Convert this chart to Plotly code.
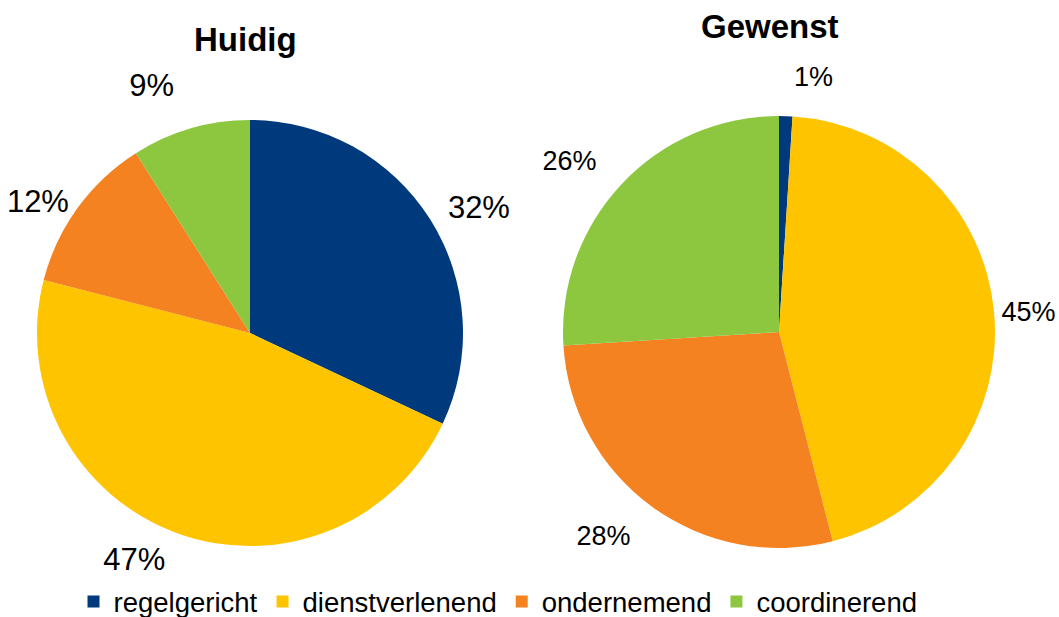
import plotly.graph_objects as go

categories = ["regelgericht", "dienstverlenend", "ondernemend", "coordinerend"]
huidig = [32, 47, 12, 9]
gewenst = [1, 45, 28, 26]
colors = ["#003A7D", "#FFC400", "#F58220", "#8DC63F"]

W, H = 1059, 617
FONT = "Liberation Sans, Arial"


def dom(cx, cy, r):
    """Domain for a pie centred at figure pixel (cx, cy) with radius r."""
    return dict(x=[max(cx - r, 0) / W, min(cx + r, W) / W],
                y=[max(H - cy - r, 0) / H, min(H - cy + r, H) / H])


def pie(values, domain, textpos, size, visible_marker=True, legend=False):
    return go.Pie(
        labels=categories, values=values, sort=False, direction="clockwise", rotation=0,
        marker=dict(colors=colors if visible_marker else ["rgba(0,0,0,0)"] * len(values),
                    line=dict(width=0)),
        textposition=textpos, texttemplate="%{value}%",
        textfont=dict(size=size, color="black", family=FONT),
        domain=domain, showlegend=legend,
        hoverinfo="label+percent" if visible_marker else "skip",
    )


fig = go.Figure()
# Huidig
fig.add_trace(pie(huidig, dom(250, 333, 213), ["none", "none", "outside", "none"], 31, legend=True))
fig.add_trace(pie(huidig, dom(250, 333, 224), ["outside", "outside", "none", "none"], 31, visible_marker=False))
fig.add_trace(pie(huidig, dom(250, 333, 241), ["none", "none", "none", "outside"], 31, visible_marker=False))
# Gewenst
fig.add_trace(pie(gewenst, dom(779, 332, 216), ["none", "outside", "none", "none"], 27))
fig.add_trace(pie(gewenst, dom(779, 332, 240), ["outside", "none", "outside", "outside"], 27, visible_marker=False))

fig.update_layout(
    width=W, height=H, margin=dict(l=0, r=0, t=0, b=0, autoexpand=False),
    paper_bgcolor="white", plot_bgcolor="white",
    font=dict(family=FONT, color="black"),
    legend=dict(orientation="h", x=498 / W, xanchor="center", y=-9 / H, yanchor="bottom",
                font=dict(size=27.5), itemwidth=30, traceorder="normal"),
    annotations=[
        dict(text="<b>Huidig</b>", x=245 / W, y=1 - 39 / H, xref="paper", yref="paper",
             xanchor="center", yanchor="middle", showarrow=False, font=dict(size=33)),
        dict(text="<b>Gewenst</b>", x=770 / W, y=1 - 26 / H, xref="paper", yref="paper",
             xanchor="center", yanchor="middle", showarrow=False, font=dict(size=33)),
    ],
)
fig.write_html("out.html", config={"displayModeBar": False},
               post_script="document.body.style.margin='0';")
